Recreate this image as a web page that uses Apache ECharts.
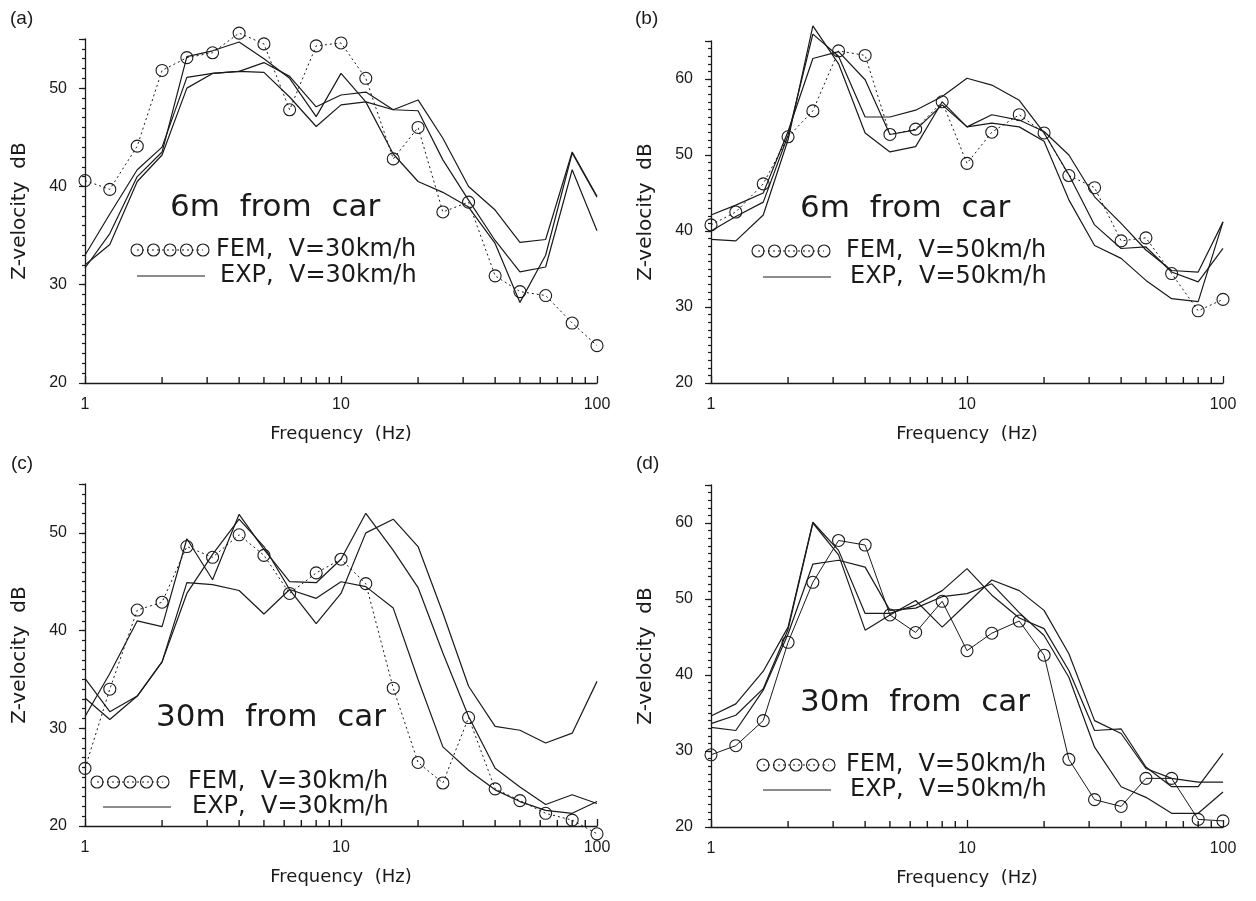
<!DOCTYPE html>
<html>
<head>
<meta charset="utf-8">
<style>
html, body { margin: 0; padding: 0; background: #fff; }
#chart { width: 1256px; height: 901px; }
</style>
</head>
<body>
<div id="chart"></div>
<script src="https://cdn.jsdelivr.net/npm/echarts@6/dist/echarts.min.js"></script>
<script>
// 1/3 octave centre frequencies (Hz)
const freqs = [1, 1.25, 1.6, 2, 2.5, 3.15, 4, 5, 6.3, 8, 10, 12.5, 16, 20, 25, 31.5, 40, 50, 63, 80, 100];
// log-axis minor tick values
const minorTickVals = [2, 3, 4, 5, 6, 7, 8, 9, 20, 30, 40, 50, 60, 70, 80, 90];

// (a) 6 m from car, 30 km/h
const femA  = [40.6, 39.7, 44.1, 51.8, 53.1, 53.6, 55.6, 54.5, 47.8, 54.3, 54.6, 51.0, 42.8, 46.0, 37.4, 38.4, 30.9, 29.3, 28.9, 26.1, 23.8];
const expA1 = [31.7, 35.2, 41.0, 43.5, 53.2, 53.8, 54.7, 53.0, 51.0, 47.1, 51.5, 48.6, 43.3, 40.5, 39.4, 37.9, 34.2, 28.2, 33.0, 43.4, 38.9];
const expA2 = [33.0, 37.2, 41.7, 44.0, 51.1, 51.5, 51.7, 52.6, 51.2, 48.1, 49.3, 49.6, 47.8, 48.8, 44.9, 40.0, 37.6, 34.3, 34.6, 43.5, 39.0];
const expA3 = [32.0, 34.1, 40.5, 43.2, 50.0, 51.5, 51.7, 51.6, 49.1, 46.1, 48.3, 48.6, 47.8, 47.7, 42.7, 38.6, 34.5, 31.3, 31.8, 41.7, 35.5];

// (b) 6 m from car, 50 km/h
const femB  = [40.8, 42.5, 46.2, 52.4, 55.8, 63.7, 63.1, 52.7, 53.4, 57.0, 48.9, 53.0, 55.3, 52.9, 47.3, 45.7, 38.7, 39.1, 34.4, 29.5, 31.0];
const expB1 = [42.1, 43.4, 45.0, 53.1, 62.7, 63.6, 59.9, 52.7, 53.3, 56.6, 53.7, 55.3, 54.6, 53.1, 50.0, 44.5, 41.0, 37.5, 34.8, 34.6, 41.2];
const expB2 = [40.0, 41.9, 43.8, 52.6, 65.9, 63.0, 55.0, 55.0, 55.9, 57.7, 60.1, 59.2, 57.2, 52.9, 47.4, 40.8, 37.7, 37.9, 34.6, 33.3, 37.7];
const expB3 = [38.9, 38.7, 42.1, 52.0, 67.0, 62.0, 52.9, 50.4, 51.1, 57.0, 53.7, 54.2, 53.7, 51.8, 44.1, 38.1, 36.4, 33.5, 31.1, 30.7, 41.2];

// (c) 30 m from car, 30 km/h
const femC  = [25.9, 34.0, 42.1, 42.9, 48.6, 47.5, 49.8, 47.7, 43.8, 45.9, 47.3, 44.8, 34.1, 26.5, 24.4, 31.1, 23.8, 22.6, 21.3, 20.6, 19.2];
const expC1 = [31.2, 35.6, 41.0, 40.4, 49.4, 45.2, 51.9, 48.3, 45.0, 44.9, 47.3, 52.0, 48.2, 44.4, 37.7, 31.2, 25.9, 24.0, 22.2, 23.2, 22.3];
const expC2 = [33.1, 30.9, 33.3, 36.8, 43.8, 47.8, 51.4, 48.6, 44.2, 40.7, 43.8, 50.0, 51.4, 48.6, 41.8, 34.3, 30.2, 29.8, 28.5, 29.5, 34.8];
const expC3 = [35.1, 31.7, 33.3, 36.8, 44.9, 44.7, 44.1, 41.7, 44.2, 43.3, 45.0, 44.5, 42.3, 35.0, 28.1, 25.7, 23.7, 22.5, 21.6, 21.3, 22.5];

// (d) 30 m from car, 50 km/h
const femD  = [29.5, 30.7, 34.0, 44.3, 52.2, 57.7, 57.1, 47.9, 45.6, 49.7, 43.2, 45.5, 47.1, 42.6, 28.9, 23.6, 22.7, 26.4, 26.4, 21.0, 20.8];
const expD1 = [34.6, 36.2, 40.5, 46.3, 60.1, 56.4, 48.1, 48.1, 49.2, 51.1, 54.0, 50.5, 47.5, 46.1, 40.6, 32.7, 32.9, 27.9, 25.3, 25.3, 29.7];
const expD2 = [33.6, 34.7, 38.2, 46.0, 60.0, 55.8, 45.9, 47.9, 49.8, 46.3, 49.4, 52.5, 51.1, 48.5, 42.8, 34.0, 32.3, 27.7, 26.4, 25.9, 25.9];
const expD3 = [33.1, 32.7, 38.0, 45.4, 54.6, 55.1, 54.2, 48.5, 48.8, 50.3, 50.7, 52.0, 48.2, 45.2, 39.7, 30.5, 25.3, 23.9, 21.8, 21.8, 24.6];

const femSets = [femA, femB, femC, femD];
const expSets = [[expA1, expA2, expA3], [expB1, expB2, expB3], [expC1, expC2, expC3], [expD1, expD2, expD3]];
const panelTags = ['(a)', '(b)', '(c)', '(d)'];
const distTexts = ['6m  from  car', '6m  from  car', '30m  from  car', '30m  from  car'];
const speedTexts = ['V=30km/h', 'V=50km/h', 'V=30km/h', 'V=50km/h'];
const yMaxes = [55, 65, 55, 65];
const yMin = 20;

// layout
const grids = [
  { left: 85, top: 39, width: 512, height: 344 },
  { left: 711, top: 41, width: 512, height: 342 },
  { left: 85, top: 484, width: 512, height: 342 },
  { left: 711, top: 485, width: 512, height: 342 }
];
const tagPos = [[10, 19], [635, 19], [11, 464], [636, 464]];
const distPos = [[170, 208], [800, 209], [156, 718], [800, 703]];
// legend: circle row start x, row y, line start x, line y, text x
const legPos = [
  { cx: 137, cy: 250, lx: 137, ly: 276, tx: 216 },
  { cx: 758, cy: 251, lx: 763, ly: 277, tx: 846 },
  { cx: 97, cy: 782, lx: 103, ly: 807, tx: 188 },
  { cx: 763, cy: 765, lx: 763, ly: 790, tx: 846 }
];

const ink = '#1a1a1a';
const thinFont = "'DejaVu Sans', sans-serif";
const numFont = "'Liberation Sans', Arial, sans-serif";

let myChart = echarts.init(document.getElementById('chart'));

let xAxes = [], yAxes = [], series = [], graphics = [];

grids.forEach(function (g, i) {
  xAxes.push({
    type: 'log', logBase: 10, gridIndex: i, min: 1, max: 100,
    axisLine: { onZero: false, lineStyle: { color: ink, width: 1.3 } },
    axisTick: { inside: true, length: 7, lineStyle: { color: ink, width: 1.3 } },
    axisLabel: { color: ink, fontSize: 16, fontFamily: numFont, margin: 14 },
    splitLine: { show: false },
    name: 'Frequency  (Hz)', nameLocation: 'middle', nameGap: 42,
    nameTextStyle: { color: ink, fontSize: 18, fontFamily: thinFont }
  });
  // fine ticks every 1 dB
  yAxes.push({
    type: 'value', gridIndex: i, min: yMin, max: yMaxes[i], interval: 1, position: 'left',
    axisLine: { show: true, onZero: false, lineStyle: { color: ink, width: 1.3 } },
    axisTick: { show: true, length: 3, lineStyle: { color: ink, width: 1.2 } },
    axisLabel: { show: false },
    splitLine: { show: false }
  });
  // labelled ticks every 10 dB
  yAxes.push({
    type: 'value', gridIndex: i, min: yMin, max: yMaxes[i], interval: 10, position: 'left',
    axisLine: { show: false },
    axisTick: { show: true, length: 6, lineStyle: { color: ink, width: 1.2 } },
    axisLabel: {
      color: ink, fontSize: 16, fontFamily: numFont, margin: 18,
      formatter: function (v) { return v % 10 === 0 ? String(v) : ''; }
    },
    splitLine: { show: false },
    name: 'Z-velocity  dB', nameLocation: 'middle', nameGap: 55, nameRotate: 90,
    nameTextStyle: { color: ink, fontSize: 20, fontFamily: thinFont }
  });

  // minor ticks of the log axis: short marks placed through the axis scale
  series.push({
    type: 'scatter', xAxisIndex: i, yAxisIndex: 2 * i, silent: true, clip: false, z: 2,
    data: minorTickVals.map(function (v) { return [v, yMin]; }),
    symbol: 'rect', symbolSize: [1.4, 6], symbolOffset: [0, -3],
    itemStyle: { color: ink, opacity: 1 },
    emphasis: { disabled: true }
  });

  series.push({
    type: 'line', name: 'FEM', xAxisIndex: i, yAxisIndex: 2 * i,
    data: freqs.map(function (f, k) { return [f, femSets[i][k]]; }),
    symbol: 'circle', symbolSize: 12, clip: false, z: 4,
    itemStyle: { color: 'rgba(0,0,0,0)', borderColor: ink, borderWidth: 1.1 },
    lineStyle: { color: ink, width: 1, type: i === 3 ? 'solid' : [2, 3] },
    emphasis: { disabled: true }
  });
  expSets[i].forEach(function (arr, j) {
    series.push({
      type: 'line', name: 'EXP' + (j + 1), xAxisIndex: i, yAxisIndex: 2 * i,
      data: freqs.map(function (f, k) { return [f, arr[k]]; }),
      symbol: 'none', clip: false, z: 3,
      lineStyle: { color: ink, width: 1.2 },
      emphasis: { disabled: true }
    });
  });

  // panel tag and distance note
  graphics.push({
    type: 'text', x: tagPos[i][0], y: tagPos[i][1],
    style: { text: panelTags[i], fill: ink, font: '19px ' + numFont, verticalAlign: 'middle' }
  });
  graphics.push({
    type: 'text', x: distPos[i][0], y: distPos[i][1],
    style: { text: distTexts[i], fill: ink, font: '31px ' + thinFont, verticalAlign: 'middle' }
  });

  // hand-drawn key
  const L = legPos[i];
  const step = 16.5;
  graphics.push({
    type: 'line', shape: { x1: L.cx, y1: L.cy, x2: L.cx + 4 * step, y2: L.cy },
    style: { stroke: ink, lineWidth: 1, lineDash: [2, 3] }
  });
  for (let c = 0; c < 5; c++) {
    graphics.push({
      type: 'circle', shape: { cx: L.cx + c * step, cy: L.cy, r: 6 },
      style: { fill: 'none', stroke: ink, lineWidth: 1.1 }
    });
  }
  graphics.push({
    type: 'text', x: L.tx, y: L.cy,
    style: { text: 'FEM,  ' + speedTexts[i], fill: ink, font: '24px ' + thinFont, verticalAlign: 'middle' }
  });
  graphics.push({
    type: 'line', shape: { x1: L.lx, y1: L.ly, x2: L.lx + 68, y2: L.ly },
    style: { stroke: ink, lineWidth: 1.2 }
  });
  graphics.push({
    type: 'text', x: L.tx + 4, y: L.ly,
    style: { text: 'EXP,  ' + speedTexts[i], fill: ink, font: '24px ' + thinFont, verticalAlign: 'middle' }
  });
});

let option = {
  backgroundColor: '#fff',
  animation: false,
  grid: grids,
  xAxis: xAxes,
  yAxis: yAxes,
  series: series,
  graphic: graphics
};
myChart.setOption(option);
</script>
</body>
</html>
